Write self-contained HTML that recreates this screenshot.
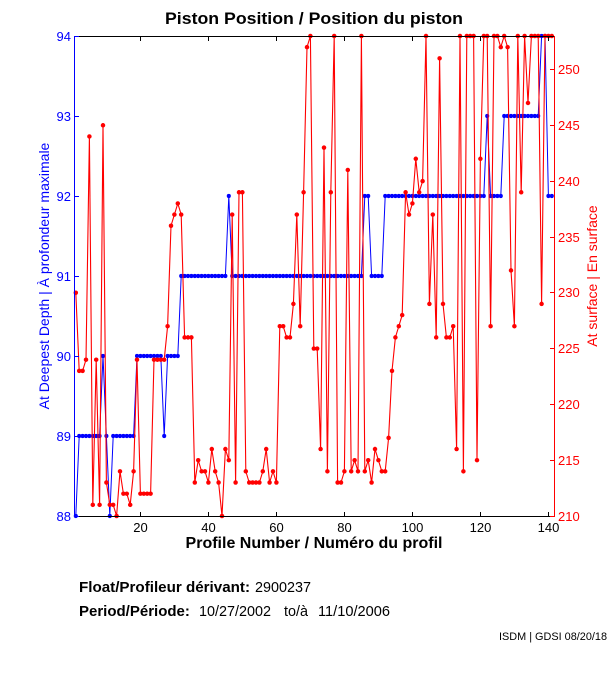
<!DOCTYPE html>
<html><head><meta charset="utf-8"><style>html,body{margin:0;padding:0;background:#fff;}svg{display:block}</style></head>
<body>
<svg width="611" height="675" viewBox="0 0 611 675" xmlns="http://www.w3.org/2000/svg" font-family="'Liberation Sans', Arial, sans-serif">
<defs>
<marker id="mb" markerUnits="userSpaceOnUse" refX="0" refY="0" markerWidth="1" markerHeight="1" overflow="visible"><ellipse cx="0" cy="0" rx="0.6" ry="0.026" fill="#0000ff"/></marker>
<marker id="mr" markerUnits="userSpaceOnUse" refX="0" refY="0" markerWidth="1" markerHeight="1" overflow="visible"><ellipse cx="0" cy="0" rx="0.66" ry="0.2" fill="#ff0000"/></marker>
</defs>
<rect width="611" height="675" fill="#fff"/>

<!-- title -->
<text x="314" y="24" font-size="17" font-weight="bold" text-anchor="middle" textLength="298" lengthAdjust="spacingAndGlyphs">Piston Position / Position du piston</text>

<!-- blue series -->
<g transform="matrix(3.4 0 0 -80 72.4 7556)">
<polyline fill="none" stroke="#0000ff" stroke-width="1" vector-effect="non-scaling-stroke" marker-start="url(#mb)" marker-mid="url(#mb)" marker-end="url(#mb)" points="1,88 2,89 3,89 4,89 5,89 6,89 7,89 8,89 9,90 10,89 11,88 12,89 13,89 14,89 15,89 16,89 17,89 18,89 19,90 20,90 21,90 22,90 23,90 24,90 25,90 26,90 27,89 28,90 29,90 30,90 31,90 32,91 33,91 34,91 35,91 36,91 37,91 38,91 39,91 40,91 41,91 42,91 43,91 44,91 45,91 46,92 47,91 48,91 49,91 50,91 51,91 52,91 53,91 54,91 55,91 56,91 57,91 58,91 59,91 60,91 61,91 62,91 63,91 64,91 65,91 66,91 67,91 68,91 69,91 70,91 71,91 72,91 73,91 74,91 75,91 76,91 77,91 78,91 79,91 80,91 81,91 82,91 83,91 84,91 85,91 86,92 87,92 88,91 89,91 90,91 91,91 92,92 93,92 94,92 95,92 96,92 97,92 98,92 99,92 100,92 101,92 102,92 103,92 104,92 105,92 106,92 107,92 108,92 109,92 110,92 111,92 112,92 113,92 114,92 115,92 116,92 117,92 118,92 119,92 120,92 121,92 122,93 123,92 124,92 125,92 126,92 127,93 128,93 129,93 130,93 131,93 132,93 133,93 134,93 135,93 136,93 137,93 138,94 139,94 140,92 141,92"/>
</g>

<!-- red series -->
<g transform="matrix(3.4 0 0 -11.163 72.4 2860.23)">
<polyline fill="none" stroke="#ff0000" stroke-width="1.1" vector-effect="non-scaling-stroke" marker-start="url(#mr)" marker-mid="url(#mr)" marker-end="url(#mr)" points="1,230 2,223 3,223 4,224 5,244 6,211 7,224 8,211 9,245 10,213 11,211 12,211 13,210 14,214 15,212 16,212 17,211 18,214 19,224 20,212 21,212 22,212 23,212 24,224 25,224 26,224 27,224 28,227 29,236 30,237 31,238 32,237 33,226 34,226 35,226 36,213 37,215 38,214 39,214 40,213 41,216 42,214 43,213 44,210 45,216 46,215 47,237 48,213 49,239 50,239 51,214 52,213 53,213 54,213 55,213 56,214 57,216 58,213 59,214 60,213 61,227 62,227 63,226 64,226 65,229 66,237 67,227 68,239 69,252 70,253 71,225 72,225 73,216 74,243 75,214 76,239 77,253 78,213 79,213 80,214 81,241 82,214 83,215 84,214 85,253 86,214 87,215 88,213 89,216 90,215 91,214 92,214 93,217 94,223 95,226 96,227 97,228 98,239 99,237 100,238 101,242 102,239 103,240 104,253 105,229 106,237 107,226 108,251 109,229 110,226 111,226 112,227 113,216 114,253 115,214 116,253 117,253 118,253 119,215 120,242 121,253 122,253 123,227 124,253 125,253 126,252 127,253 128,252 129,232 130,227 131,253 132,239 133,253 134,247 135,253 136,253 137,253 138,229 139,253 140,253 141,253"/>
</g>

<!-- axes -->
<g shape-rendering="crispEdges" stroke-width="1">
<line x1="74" y1="36.5" x2="555" y2="36.5" stroke="#000"/>
<line x1="74" y1="516.5" x2="555" y2="516.5" stroke="#000"/>
<line x1="74.5" y1="36" x2="74.5" y2="517" stroke="#0000ff"/>
<line x1="554.5" y1="36" x2="554.5" y2="517" stroke="#ff0000"/>
<g stroke="#000">
<line x1="140.5" y1="512" x2="140.5" y2="516"/><line x1="140.5" y1="37" x2="140.5" y2="41"/>
<line x1="208.5" y1="512" x2="208.5" y2="516"/><line x1="208.5" y1="37" x2="208.5" y2="41"/>
<line x1="276.5" y1="512" x2="276.5" y2="516"/><line x1="276.5" y1="37" x2="276.5" y2="41"/>
<line x1="344.5" y1="512" x2="344.5" y2="516"/><line x1="344.5" y1="37" x2="344.5" y2="41"/>
<line x1="412.5" y1="512" x2="412.5" y2="516"/><line x1="412.5" y1="37" x2="412.5" y2="41"/>
<line x1="480.5" y1="512" x2="480.5" y2="516"/><line x1="480.5" y1="37" x2="480.5" y2="41"/>
<line x1="548.5" y1="512" x2="548.5" y2="516"/><line x1="548.5" y1="37" x2="548.5" y2="41"/>
</g>
<g stroke="#0000ff">
<line x1="75" y1="36.5" x2="79" y2="36.5"/>
<line x1="75" y1="116.5" x2="79" y2="116.5"/>
<line x1="75" y1="196.5" x2="79" y2="196.5"/>
<line x1="75" y1="276.5" x2="79" y2="276.5"/>
<line x1="75" y1="356.5" x2="79" y2="356.5"/>
<line x1="75" y1="436.5" x2="79" y2="436.5"/>
<line x1="75" y1="516.5" x2="79" y2="516.5"/>
</g>
<g stroke="#ff0000">
<line x1="550" y1="516.5" x2="554" y2="516.5"/>
<line x1="550" y1="460.5" x2="554" y2="460.5"/>
<line x1="550" y1="404.5" x2="554" y2="404.5"/>
<line x1="550" y1="348.5" x2="554" y2="348.5"/>
<line x1="550" y1="292.5" x2="554" y2="292.5"/>
<line x1="550" y1="237.5" x2="554" y2="237.5"/>
<line x1="550" y1="181.5" x2="554" y2="181.5"/>
<line x1="550" y1="125.5" x2="554" y2="125.5"/>
<line x1="550" y1="69.5" x2="554" y2="69.5"/>
</g>
</g>

<g font-size="13" fill="#0000ff" text-anchor="end">
<text x="71" y="41">94</text>
<text x="71" y="121">93</text>
<text x="71" y="201">92</text>
<text x="71" y="281">91</text>
<text x="71" y="361">90</text>
<text x="71" y="441">89</text>
<text x="71" y="521">88</text>
</g>
<g font-size="13" fill="#ff0000">
<text x="558" y="521">210</text>
<text x="558" y="465">215</text>
<text x="558" y="409">220</text>
<text x="558" y="353">225</text>
<text x="558" y="297">230</text>
<text x="558" y="242">235</text>
<text x="558" y="186">240</text>
<text x="558" y="130">245</text>
<text x="558" y="74">250</text>
</g>
<g font-size="13" fill="#000" text-anchor="middle">
<text x="140.5" y="532">20</text>
<text x="208.5" y="532">40</text>
<text x="276.5" y="532">60</text>
<text x="344.5" y="532">80</text>
<text x="412.5" y="532">100</text>
<text x="480.5" y="532">120</text>
<text x="548.5" y="532">140</text>
</g>

<text x="314" y="548" font-size="16" font-weight="bold" text-anchor="middle">Profile Number / Numéro du profil</text>
<text transform="translate(49,276) rotate(-90)" font-size="14" fill="#0000ff" text-anchor="middle">At Deepest Depth | À profondeur maximale</text>
<text transform="translate(597,276) rotate(-90)" font-size="14" fill="#ff0000" text-anchor="middle">At surface | En surface</text>

<text x="79" y="592" font-size="15" font-weight="bold" textLength="171" lengthAdjust="spacingAndGlyphs">Float/Profileur dérivant:</text>
<text x="255" y="592" font-size="15" textLength="56" lengthAdjust="spacingAndGlyphs">2900237</text>
<text x="79" y="616" font-size="15" font-weight="bold">Period/Période:</text>
<text x="199" y="616" font-size="15" textLength="72" lengthAdjust="spacingAndGlyphs">10/27/2002</text>
<text x="284" y="616" font-size="15" textLength="24" lengthAdjust="spacingAndGlyphs">to/à</text>
<text x="318" y="616" font-size="15" textLength="72" lengthAdjust="spacingAndGlyphs">11/10/2006</text>

<text x="499" y="640" font-size="11" textLength="108" lengthAdjust="spacingAndGlyphs">ISDM | GDSI 08/20/18</text>
</svg>
</body></html>
